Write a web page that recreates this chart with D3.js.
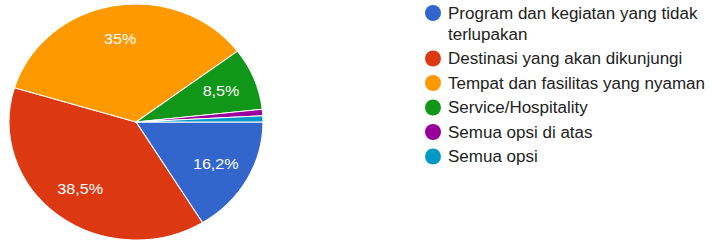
<!DOCTYPE html>
<html><head><meta charset="utf-8">
<script src="https://cdn.jsdelivr.net/npm/d3@7"></script>
<style>
body{margin:0;background:#fff;}
svg{display:block;font-family:Arial,"Liberation Sans",sans-serif;}
</style></head>
<body>
<svg id="chart" width="712" height="245"></svg>
<script>
const categories = ["Program dan kegiatan yang tidak terlupakan","Destinasi yang akan dikunjungi","Tempat dan fasilitas yang nyaman","Service/Hospitality","Semua opsi di atas","Semua opsi"];
const counts = [19, 45, 41, 10, 1, 1];
const percentLabels = ["16,2%","38,5%","35%","8,5%","",""];
const colors = ["#3366cc","#dc3912","#ff9900","#109618","#990099","#0099c6"];
const legendLines = [["Program dan kegiatan yang tidak","terlupakan"],["Destinasi yang akan dikunjungi"],["Tempat dan fasilitas yang nyaman"],["Service/Hospitality"],["Semua opsi di atas"],["Semua opsi"]];

const svg = d3.select("#chart");
const R = 118, sx = 1.076;
const g = svg.append("g").attr("transform", `translate(136,122) scale(${sx},1)`);
const pie = d3.pie().sort(null).startAngle(Math.PI/2).endAngle(Math.PI/2 + 2*Math.PI);
const arcs = pie(counts);
const arc = d3.arc().innerRadius(0).outerRadius(R);
const labelArc = d3.arc().innerRadius(R*0.72).outerRadius(R*0.72);
g.selectAll("path").data(arcs).join("path")
  .attr("d", arc).attr("fill", (d,i)=>colors[i])
  .attr("stroke","#fff").attr("stroke-width",1);
g.selectAll("text").data(arcs).join("text")
  .attr("transform", d=>{const c=labelArc.centroid(d);return `translate(${c[0]},${c[1]})`;})
  .attr("text-anchor","middle").attr("dy","0.35em")
  .attr("fill","#fff").attr("font-size",15)
  .text((d,i)=>percentLabels[i]);

const leg = svg.append("g");
let y = 13;
const lineH = 21, itemGap = 24.5;
legendLines.forEach((lines,i)=>{
  leg.append("circle").attr("cx",433).attr("cy",y).attr("r",8).attr("fill",colors[i]);
  lines.forEach((t,j)=>{
    leg.append("text").attr("transform",`translate(448,${y + j*lineH}) scale(${sx},1)`).attr("dy","0.35em")
      .attr("font-size",15.8).attr("fill","#222").text(t);
  });
  y += (lines.length-1)*lineH + itemGap;
});
</script>
</body></html>
